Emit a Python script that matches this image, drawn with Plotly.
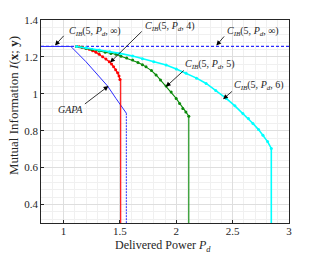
import plotly.graph_objects as go

# ---- data ----
cib_inf = 1.2566
y_bottom = 0.3

gapa_x = [0.8, 1.065, 1.199, 1.317, 1.391, 1.465, 1.557]
gapa_y = [1.2566, 1.2566, 1.174, 1.093, 1.042, 0.975, 0.895]

red_x = [1.116, 1.14, 1.169, 1.198, 1.228, 1.258, 1.287, 1.317, 1.347, 1.376, 1.406, 1.426, 1.444, 1.462, 1.48, 1.492, 1.5]
red_y = [1.2566, 1.255, 1.252, 1.247, 1.241, 1.234, 1.225, 1.214, 1.201, 1.188, 1.174, 1.161, 1.147, 1.131, 1.114, 1.097, 1.078]
red_end_x = 1.507

green_x = [1.116, 1.16, 1.199, 1.25, 1.317, 1.37, 1.42, 1.465, 1.51, 1.56, 1.613, 1.66, 1.70, 1.732, 1.78, 1.821, 1.86, 1.91, 1.955, 1.999, 2.03, 2.058, 2.085, 2.111]
green_y = [1.2566, 1.252, 1.246, 1.240, 1.232, 1.225, 1.219, 1.214, 1.204, 1.194, 1.183, 1.170, 1.158, 1.147, 1.126, 1.102, 1.075, 1.042, 1.010, 0.975, 0.948, 0.921, 0.902, 0.879]
green_end_x = 2.111

cyan_x = [1.116, 1.2, 1.317, 1.41, 1.5, 1.613, 1.7, 1.8, 1.91, 2.0, 2.087, 2.18, 2.265, 2.35, 2.443, 2.52, 2.591, 2.64, 2.68, 2.73, 2.769, 2.81, 2.843]
cyan_y = [1.2566, 1.249, 1.237, 1.228, 1.219, 1.205, 1.190, 1.174, 1.156, 1.134, 1.111, 1.085, 1.056, 1.018, 0.975, 0.935, 0.894, 0.866, 0.839, 0.806, 0.776, 0.741, 0.704]
cyan_end_x = 2.843

x_ticks = [1, 1.5, 2, 2.5, 3]
x_tick_labels = ["1", "1.5", "2", "2.5", "3"]
y_ticks = [0.4, 0.6, 0.8, 1.0, 1.2, 1.4]
y_tick_labels = ["0.4", "0.6", "0.8", "1", "1.2", "1.4"]

BLUE = "#2b2bff"
RED = "#ff0000"
GREEN = "#0a8a0a"
CYAN = "#00ffff"
FONT = "Liberation Serif"
TXT = "#262626"

fig = go.Figure()

# horizontal dashed C_IB(5,Pd,inf)
fig.add_trace(go.Scatter(x=[0.8, 3.0], y=[cib_inf, cib_inf], mode="lines",
                         line=dict(color=BLUE, width=1.2, dash="3px,2px"), showlegend=False))
# GAPA
fig.add_trace(go.Scatter(x=gapa_x, y=gapa_y, mode="lines",
                         line=dict(color=BLUE, width=1.0), showlegend=False))
fig.add_trace(go.Scatter(x=[gapa_x[-1], gapa_x[-1]], y=[gapa_y[-1], y_bottom], mode="lines",
                         line=dict(color=BLUE, width=1.0, dash="2px,1px"), showlegend=False))
# red
fig.add_trace(go.Scatter(x=red_x + [red_end_x, red_end_x], y=red_y + [red_y[-1], y_bottom], mode="lines",
                         line=dict(color=RED, width=1.1), showlegend=False))
fig.add_trace(go.Scatter(x=red_x, y=red_y, mode="markers",
                         marker=dict(color=RED, size=3), showlegend=False))
# green
fig.add_trace(go.Scatter(x=green_x + [green_end_x], y=green_y + [y_bottom], mode="lines",
                         line=dict(color=GREEN, width=1.1), showlegend=False))
fig.add_trace(go.Scatter(x=green_x, y=green_y, mode="markers",
                         marker=dict(color=GREEN, size=3), showlegend=False))
# cyan
fig.add_trace(go.Scatter(x=cyan_x + [cyan_end_x], y=cyan_y + [y_bottom], mode="lines",
                         line=dict(color=CYAN, width=1.6), showlegend=False))
fig.add_trace(go.Scatter(x=cyan_x, y=cyan_y, mode="markers",
                         marker=dict(color=CYAN, size=3), showlegend=False))

def lab(txt, head, tail, pos, anchor):
    fig.add_annotation(x=head[0], y=head[1], ax=tail[0], ay=tail[1], xref="x", yref="y",
                       axref="x", ayref="y", text="", showarrow=True, arrowhead=2,
                       arrowsize=1.2, arrowwidth=0.8, arrowcolor="black")
    fig.add_annotation(x=pos[0], y=pos[1], xref="x", yref="y", text=txt, showarrow=False,
                       xanchor=anchor, yanchor="middle",
                       font=dict(family=FONT, size=10, color=TXT))

cib = "<i>C</i><sub><i>IB</i></sub>(5, <i>P</i><sub><i>d</i></sub>, %s)"
lab(cib % "∞", (0.924, 1.262), (1.013, 1.322), (1.031, 1.340), "left")
lab(cib % "4", (1.413, 1.170), (1.707, 1.346), (1.707, 1.367), "left")
lab(cib % "∞", (2.356, 1.262), (2.436, 1.319), (2.436, 1.340), "left")
lab(cib % "5", (1.908, 1.038), (2.08, 1.134), (2.062, 1.161), "left")
lab(cib % "6", (2.415, 0.971), (2.507, 1.02), (2.498, 1.047), "left")
lab("<i>GAPA</i>", (1.398, 1.042), (1.176, 0.939), (1.191, 0.917), "right")

# axis titles as annotations for exact placement
fig.add_annotation(text="Delivered Power <i>P</i><sub><i>d</i></sub>", xref="paper", yref="paper",
                   x=0.49, y=0, yshift=-23, xanchor="center", yanchor="middle", showarrow=False,
                   font=dict(family=FONT, size=12, color=TXT))
fig.add_annotation(text="Mutual Information <i>I</i>(<b>x</b>; <b>y</b>)", xref="paper", yref="paper",
                   x=0, xshift=-28, y=0.576, xanchor="center", yanchor="middle", textangle=-90,
                   showarrow=False, font=dict(family=FONT, size=13, color=TXT))

axis_common = dict(showline=True, linecolor=TXT, linewidth=0.8, mirror=True,
                   ticks="inside", ticklen=3, tickcolor=TXT, showgrid=True,
                   gridcolor="#dedede", gridwidth=0.6, zeroline=False,
                   tickfont=dict(family=FONT, size=11, color=TXT))

fig.update_xaxes(range=[0.8, 3.0], tickvals=x_ticks, ticktext=x_tick_labels,
                 ticklabelstandoff=-2,
                 minor=dict(dtick=0.1, showgrid=True, gridcolor="#f0f0f0", gridwidth=0.5),
                 **axis_common)
fig.update_yaxes(range=[0.3, 1.4], tickvals=y_ticks, ticktext=y_tick_labels,
                 minor=dict(dtick=0.04, showgrid=True, gridcolor="#f0f0f0", gridwidth=0.5),
                 **axis_common)

fig.update_layout(width=320, height=254, margin=dict(l=41, r=31, t=20, b=31),
                  plot_bgcolor="white", paper_bgcolor="white", showlegend=False)

fig.write_html("out.html", config={"displayModeBar": False},
               post_script="document.body.style.margin='0';document.body.style.overflow='hidden';")
